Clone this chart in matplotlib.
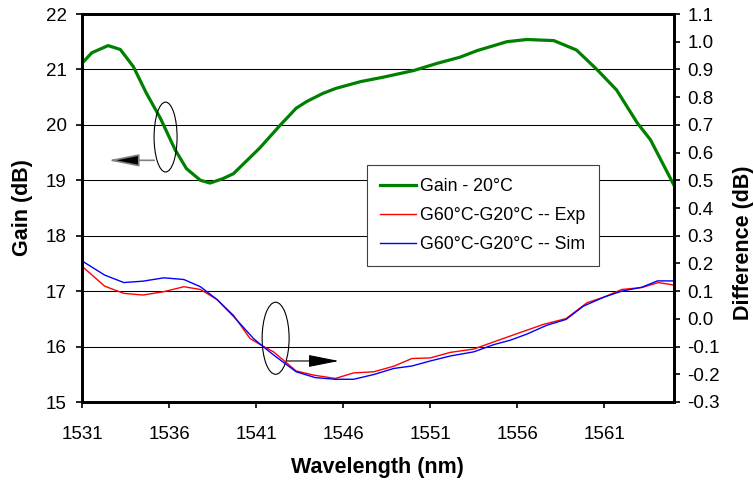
import numpy as np
import matplotlib.pyplot as plt
from matplotlib.patches import Ellipse

# Gain at 20C (left axis)
gain_wl = [1531.0, 1531.56, 1532.5, 1533.2, 1533.95, 1534.7, 1535.5, 1536.35, 1537.0,
           1537.8, 1538.35, 1539.1, 1539.7, 1541.2, 1542.4, 1543.3, 1543.9, 1544.85,
           1545.6, 1547.0, 1548.3, 1550.05, 1551.4, 1552.7, 1553.7, 1555.4, 1556.55,
           1558.1, 1559.4, 1560.6, 1561.7, 1562.9, 1563.65, 1565.0]
gain = [21.11, 21.30, 21.43, 21.36, 21.05, 20.57, 20.12, 19.55, 19.21,
        19.00, 18.95, 19.03, 19.12, 19.58, 20.0, 20.30, 20.42, 20.57,
        20.66, 20.78, 20.86, 20.98, 21.11, 21.22, 21.34, 21.50, 21.54,
        21.52, 21.35, 20.99, 20.63, 20.03, 19.73, 18.91]

# G60C - G20C, experiment (right axis)
exp_wl = [1531.0, 1532.3, 1533.4, 1534.5, 1535.7, 1536.85, 1537.8, 1538.75, 1539.7,
          1540.65, 1541.3, 1542.0, 1543.3, 1544.3, 1545.55, 1546.6, 1547.75, 1548.9,
          1549.95, 1551.0, 1552.15, 1553.5, 1554.65, 1556.0, 1557.5, 1558.8, 1560.0,
          1561.0, 1562.0, 1563.15, 1564.1, 1565.0]
exp_diff = [0.190, 0.118, 0.092, 0.086, 0.098, 0.116, 0.106, 0.070, 0.013,
            -0.071, -0.095, -0.119, -0.188, -0.203, -0.215, -0.195, -0.191, -0.171,
            -0.143, -0.141, -0.121, -0.109, -0.083, -0.053, -0.020, 0.001, 0.058,
            0.079, 0.106, 0.113, 0.131, 0.122]

# G60C - G20C, simulation (right axis)
sim_wl = [1531.0, 1532.3, 1533.4, 1534.5, 1535.7, 1536.85, 1537.8, 1538.75, 1539.7,
          1540.85, 1541.3, 1542.1, 1543.3, 1544.4, 1545.55, 1546.6, 1547.75, 1548.9,
          1549.95, 1551.0, 1552.15, 1553.5, 1554.65, 1555.6, 1556.55, 1557.7, 1558.8,
          1559.8, 1561.0, 1562.0, 1563.15, 1564.05, 1565.0]
sim_diff = [0.209, 0.158, 0.131, 0.136, 0.148, 0.142, 0.116, 0.070, 0.009,
            -0.071, -0.095, -0.135, -0.191, -0.212, -0.218, -0.218, -0.201, -0.179,
            -0.170, -0.152, -0.134, -0.119, -0.093, -0.077, -0.055, -0.023, -0.002,
            0.046, 0.079, 0.100, 0.114, 0.137, 0.137]

x_ticks = np.arange(1531, 1562, 5)
left_ticks = np.arange(15, 23, 1)
right_ticks = np.round(np.arange(-0.3, 1.11, 0.1), 1)

plt.rcParams.update({
    'font.family': ['Liberation Sans', 'DejaVu Sans'],
    'font.size': 13.5,
    'xtick.direction': 'out',
    'ytick.direction': 'out',
    'xtick.major.size': 4,
    'ytick.major.size': 4,
    'xtick.major.width': 1.2,
    'ytick.major.width': 1.2,
})

fig = plt.figure(figsize=(7.54, 4.82), dpi=100)
ax1 = fig.add_axes([82 / 754, 1 - 402 / 482, 592 / 754, 388 / 482])
ax2 = ax1.twinx()

# horizontal grid at gain ticks
for g in range(16, 22):
    ax1.axhline(g, color='black', lw=0.75, zorder=0)

g_line, = ax1.plot(gain_wl, gain, color='#008000', lw=2.3, label='Gain - 20°C', zorder=3)
e_line, = ax2.plot(exp_wl, exp_diff, color='#ff0000', lw=1.0, label='G60°C-G20°C -- Exp')
s_line, = ax2.plot(sim_wl, sim_diff, color='#0000ff', lw=1.0, label='G60°C-G20°C -- Sim')

ax1.set_xlim(1531, 1565)
ax1.set_ylim(15, 22)
ax2.set_ylim(-0.3, 1.1)
ax1.set_xticks(x_ticks)
ax1.set_yticks(left_ticks)
ax2.set_yticks(right_ticks)
ax2.set_yticklabels([f'{v:.1f}' for v in right_ticks])
ax1.tick_params(axis='x', pad=13)
ax1.tick_params(axis='y', pad=7)
ax2.tick_params(axis='y', pad=5.5)

for ax in (ax1, ax2):
    for sp in ax.spines.values():
        sp.set_linewidth(2)

# ellipses and arrows pointing to each curve's axis
ax1.add_patch(Ellipse((1535.8, 19.78), 1.32, 1.26, fill=False, ec='black', lw=0.8, zorder=4))
ax1.annotate('', xy=(1532.5, 19.36), xytext=(1535.15, 19.36),
             arrowprops=dict(arrowstyle='-|>,head_length=1.9,head_width=0.38',
                             fc='black', ec='#808080', lw=1.2, mutation_scale=10,
                             shrinkA=0, shrinkB=0), zorder=4)
ax1.add_patch(Ellipse((1542.12, 16.15), 1.55, 1.30, fill=False, ec='black', lw=0.8, zorder=4))
ax1.annotate('', xy=(1545.75, 15.74), xytext=(1542.75, 15.74),
             arrowprops=dict(arrowstyle='-|>,head_length=1.9,head_width=0.38',
                             fc='black', ec='black', lw=0.8, mutation_scale=10,
                             shrinkA=0, shrinkB=0), zorder=4)

leg = ax2.legend(handles=[g_line, e_line, s_line], loc='upper left',
                 bbox_to_anchor=(0.4814, 0.6108), borderaxespad=0, fontsize=12.8,
                 fancybox=False, framealpha=1, edgecolor='#404040', handlelength=2.0,
                 handletextpad=0.25, labelspacing=0.67, borderpad=0.75)
leg.get_frame().set_linewidth(0.8)

fig.text(377 / 754, 1 - 467 / 482, 'Wavelength (nm)', ha='center', va='center',
         fontsize=15.5, fontweight='bold')
fig.text(22.5 / 754, 1 - 208 / 482, 'Gain (dB)', ha='center', va='center',
         rotation=90, fontsize=15.5, fontweight='bold')
fig.text(744 / 754, 1 - 243 / 482, 'Difference (dB)', ha='center', va='center',
         rotation=90, fontsize=15.5, fontweight='bold')

fig.savefig('out.png', dpi=100)
